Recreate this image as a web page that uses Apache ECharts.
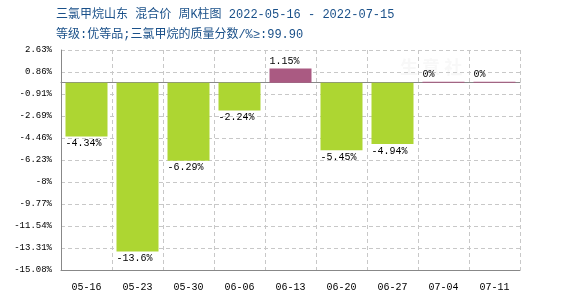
<!DOCTYPE html>
<html>
<head>
<meta charset="utf-8">
<script src="https://cdn.jsdelivr.net/npm/echarts@6/dist/echarts.min.js"></script>
<style>html,body{margin:0;padding:0;background:#fff}#c{width:570px;height:300px}</style>
</head>
<body>
<div id="c"></div>
<script>
var categories = ['05-16','05-23','05-30','06-06','06-13','06-20','06-27','07-04','07-11'];
var values = [-4.34, -13.6, -6.29, -2.24, 1.15, -5.45, -4.94, 0, 0];
// y tick labels, bottom to top
var yTickLabels = ['-15.08%','-13.31%','-11.54%','-9.77%','-8%','-6.23%','-4.46%','-2.69%','-0.91%','0.86%','2.63%'];
var yMin = -15.08, yMax = 2.63;
var titleLine1 = '三氯甲烷山东 混合价 周K柱图 2022-05-16 - 2022-07-15';
var titleLine2 = '等级:优等品;三氯甲烷的质量分数/%≥:99.90';

var GREEN = '#ADD632', PURPLE = '#AA5A82';
var MONO = "'Liberation Mono','DejaVu Sans Mono','Noto Sans CJK SC',monospace";
var BW = 42;

var chart = echarts.init(document.getElementById('c'), null, {renderer:'canvas'});
chart.setOption({
  animation: false,
  backgroundColor: '#fff',
  title: {
    text: titleLine1 + '\n' + titleLine2,
    left: 51, top: 0,
    textStyle: {color: '#1A5089', fontSize: 12, fontWeight: 'normal', lineHeight: 20,
      fontFamily: "'Liberation Mono','Noto Sans CJK SC',monospace"}
  },
  graphic: [{
    type: 'text', left: 400, top: 58, z: -1,
    style: {text: '生 意 社', fill: 'rgba(200,200,200,0.12)', font: 'bold 18px "Noto Sans CJK SC"'}
  }],
  grid: {left: 61, right: 50, top: 50, bottom: 30},
  xAxis: [{
    type: 'category', data: categories, position: 'bottom',
    axisLine: {onZero: false, lineStyle: {color: '#888', width: 1}},
    axisTick: {show: false},
    axisLabel: {color: '#000', fontSize: 10, fontFamily: MONO, margin: 12},
    splitLine: {show: true, lineStyle: {color: '#c8c8c8', type: [4,3]}}
  }, {
    type: 'category', data: categories, position: 'bottom',
    axisLine: {onZero: true, onZeroAxisIndex: 0, lineStyle: {color: '#888', width: 1}},
    axisTick: {show: false}, axisLabel: {show: false}, splitLine: {show: false}
  }],
  yAxis: [{
    type: 'value', min: yMin, max: yMax, position: 'left',
    axisLine: {show: true, lineStyle: {color: '#888'}},
    axisTick: {show: false}, axisLabel: {show: false}, splitLine: {show: false}
  }, {
    type: 'value', min: 0, max: yTickLabels.length - 1, interval: 1, position: 'left',
    axisLine: {show: false}, axisTick: {show: false},
    axisLabel: {color: '#000', fontSize: 9, fontFamily: MONO, margin: 9,
      formatter: function (v) { return yTickLabels[Math.round(v)]; }},
    splitLine: {show: true, lineStyle: {color: '#c8c8c8', type: [4,3]}}
  }],
  series: [{
    type: 'bar', xAxisIndex: 0, yAxisIndex: 0,
    barWidth: BW, barMinHeight: 1,
    data: values.map(function (v) {
      return {
        value: v,
        itemStyle: {color: v < 0 ? GREEN : PURPLE},
        label: {position: v < 0 ? 'bottom' : 'top'}
      };
    }),
    label: {
      show: true, color: '#000', fontSize: 10, fontFamily: MONO,
      align: 'left', offset: [-BW / 2, 0], distance: 2,
      formatter: function (p) { return p.value + '%'; }
    }
  }]
});
</script>
</body>
</html>
